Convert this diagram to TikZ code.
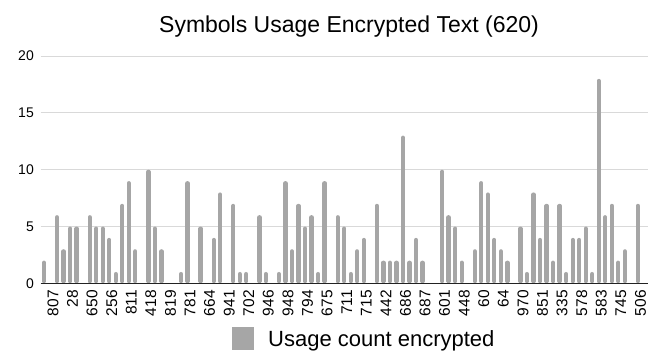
\documentclass[tikz,border=0pt]{standalone}
\usepackage{fontspec}
\setmainfont{Liberation Sans}
\definecolor{barc}{HTML}{A6A6A6}
\definecolor{gridc}{HTML}{D9D9D9}
\definecolor{axisc}{HTML}{222222}
\begin{document}
\begin{tikzpicture}[x=1pt,y=-1pt,
  bar/.style={draw=barc,line width=4.3pt,line cap=round},
  gridline/.style={draw=gridc,line width=1pt},
  ylab/.style={anchor=east,inner sep=0pt,font=\fontsize{14}{14}\selectfont},
  xlab/.style={anchor=east,rotate=90,inner sep=0pt,font=\fontsize{15.5}{15.5}\selectfont}]
\useasboundingbox[fill=white] (0,0) rectangle (650,354);
% gridlines and y labels
\foreach \v in {0,5,10,15,20}{
  \pgfmathsetmacro{\yy}{283.3-11.36*\v}
  \ifnum\v>0 \draw[gridline] (40.7,\yy) -- (647.7,\yy);\fi
  \node[ylab] (y\v) at (34,\yy) {\v};
}
% bars
\foreach \val [count=\i from 0] in {2,0,6,3,5,5,0,6,5,5,4,1,7,9,3,0,10,5,3,0,0,1,9,0,5,0,4,8,0,7,1,1,0,6,1,0,1,9,3,7,5,6,1,9,0,6,5,1,3,4,0,7,2,2,2,13,2,4,2,0,0,10,6,5,2,0,3,9,8,4,3,2,0,5,1,8,4,7,2,7,1,4,4,5,1,18,6,7,2,3,0,7,0}{
  \ifnum\val>0
    \pgfmathsetmacro{\xx}{43.96+6.527*\i}
    \pgfmathsetmacro{\yt}{283.3-11.36*\val+2.15}
    \draw[bar] (\xx,281.1) -- (\xx,\yt);
  \fi
}
% axis
\draw[axisc,line width=1.5pt] (40.7,283.3) -- (647.7,283.3);
% x labels
\foreach \lab [count=\k from 0] in {807,28,650,256,811,418,819,781,664,941,702,946,948,794,675,711,715,442,686,687,601,448,60,64,970,851,335,578,583,745,506}{
  \pgfmathsetmacro{\xx}{43.96+6.527*(3*\k+1)+2.5}
  \node[xlab] (x\k) at (\xx,290) {\lab};
}
% title
\node[font=\fontsize{23}{23}\selectfont,anchor=base] (title) at (349,32) {Symbols Usage Encrypted Text (620)};
% legend
\fill[barc] (232,327) rectangle (254,350);
\node[font=\fontsize{22}{22}\selectfont,anchor=base west,inner sep=0pt] (leg) at (268,346) {Usage count encrypted};
\end{tikzpicture}
\end{document}
